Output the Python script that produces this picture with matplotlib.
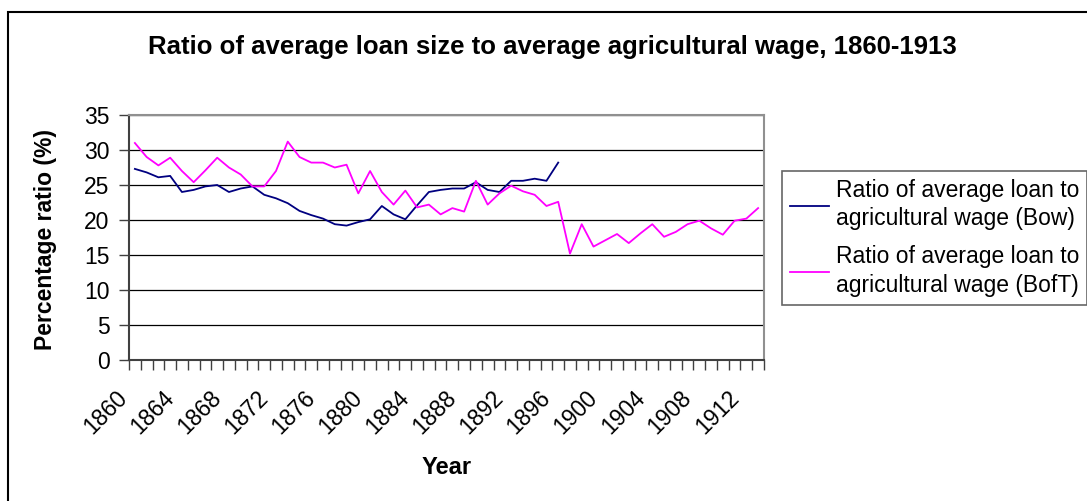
import matplotlib
matplotlib.use("Agg")
import matplotlib.pyplot as plt
import matplotlib.patches as patches
import matplotlib.transforms as mtransforms
import numpy as np

plt.rcParams['font.family'] = ['Liberation Sans', 'DejaVu Sans']

years = list(range(1860, 1914))
bow = [27.3, 26.8, 26.1, 26.3, 24.0, 24.3, 24.8, 25.0, 24.0, 24.5,
       24.8, 23.6, 23.1, 22.4, 21.3, 20.7, 20.2, 19.4, 19.2, 19.7,
       20.1, 22.0, 20.8, 20.1, 22.1, 24.0, 24.3, 24.5, 24.5, 25.4,
       24.3, 24.0, 25.6, 25.6, 25.9, 25.6, 28.2]
boft = [31.0, 29.0, 27.8, 28.9, 27.0, 25.4, 27.1, 28.9, 27.5, 26.5,
        24.8, 24.8, 27.0, 31.2, 29.0, 28.2, 28.2, 27.5, 27.9, 23.8,
        27.0, 24.0, 22.2, 24.2, 21.8, 22.2, 20.8, 21.7, 21.2, 25.6,
        22.2, 23.8, 24.9, 24.1, 23.6, 22.0, 22.6, 15.2, 19.4, 16.2,
        17.1, 18.0, 16.7, 18.1, 19.4, 17.6, 18.3, 19.4, 19.9, 18.8,
        17.9, 19.9, 20.2, 21.7]
labels = ['Ratio of average loan to\nagricultural wage (Bow)',
          'Ratio of average loan to\nagricultural wage (BofT)']

W, H = 1087, 501
fig = plt.figure(figsize=(W / 100, H / 100), dpi=100)

# outer chart border (runs off the right and bottom edges)
fig.patches.append(patches.Rectangle((8 / W, -0.1), 1.2, 1 - 12 / H + 0.1,
                                     transform=fig.transFigure, fill=False,
                                     edgecolor='black', linewidth=1.5))

ax = fig.add_axes([129 / W, 1 - 360 / H, (764 - 129) / W, (360 - 115) / H])

x = np.arange(len(years))
l1, = ax.plot(x[:len(bow)], bow, color='#000080', lw=1.3)
l2, = ax.plot(x, boft, color='#FF00FF', lw=1.3)

ax.set_xlim(-0.5, len(years) - 0.5)
ax.set_ylim(0, 35)
ax.set_yticks(range(0, 36, 5))
ax.yaxis.grid(True, color='black', lw=0.9)
ax.set_axisbelow(True)

ax.set_xticks(x[::4])
ax.set_xticklabels([str(y) for y in years[::4]], rotation=45, ha='right',
                   fontsize=16.5)
ax.set_xticks(np.arange(-0.5, len(years), 1), minor=True)
ax.tick_params(axis='x', which='major', length=0, pad=19)
ax.tick_params(axis='x', which='minor', length=7, width=1, color='#404040')
ax.tick_params(axis='y', length=7, width=1, color='#404040', labelsize=16.5,
               pad=7)
offset = mtransforms.ScaledTranslation(-3 / 100, 0, fig.dpi_scale_trans)
for lab in ax.get_xticklabels():
    lab.set_transform(lab.get_transform() + offset)

for s in ['top', 'right']:
    ax.spines[s].set_color('#909090')
    ax.spines[s].set_linewidth(1.5)
for s in ['left', 'bottom']:
    ax.spines[s].set_color('#404040')
    ax.spines[s].set_linewidth(1.5)

fig.text(552 / W, 1 - 47 / H,
         'Ratio of average loan size to average agricultural wage, 1860-1913',
         ha='center', va='center', fontsize=18.5, fontweight='bold')
fig.text(46 / W, 1 - 240 / H, 'Percentage ratio (%)', rotation=90,
         ha='center', va='center', fontsize=16.5, fontweight='bold')
fig.text(447 / W, 1 - 467 / H, 'Year', ha='center', va='center',
         fontsize=17, fontweight='bold')

leg = fig.legend([l1, l2], labels, loc='upper left',
                 bbox_to_anchor=(782 / W, 1 - 171 / H), fontsize=16.5,
                 frameon=True, fancybox=False, edgecolor='#404040',
                 handlelength=1.7, handletextpad=0.3, borderpad=0.35,
                 labelspacing=0.65, borderaxespad=0)
leg.get_frame().set_linewidth(1.2)
for t in leg.get_texts():
    t.set_linespacing(1.3)

fig.savefig('out.png', dpi=100)
